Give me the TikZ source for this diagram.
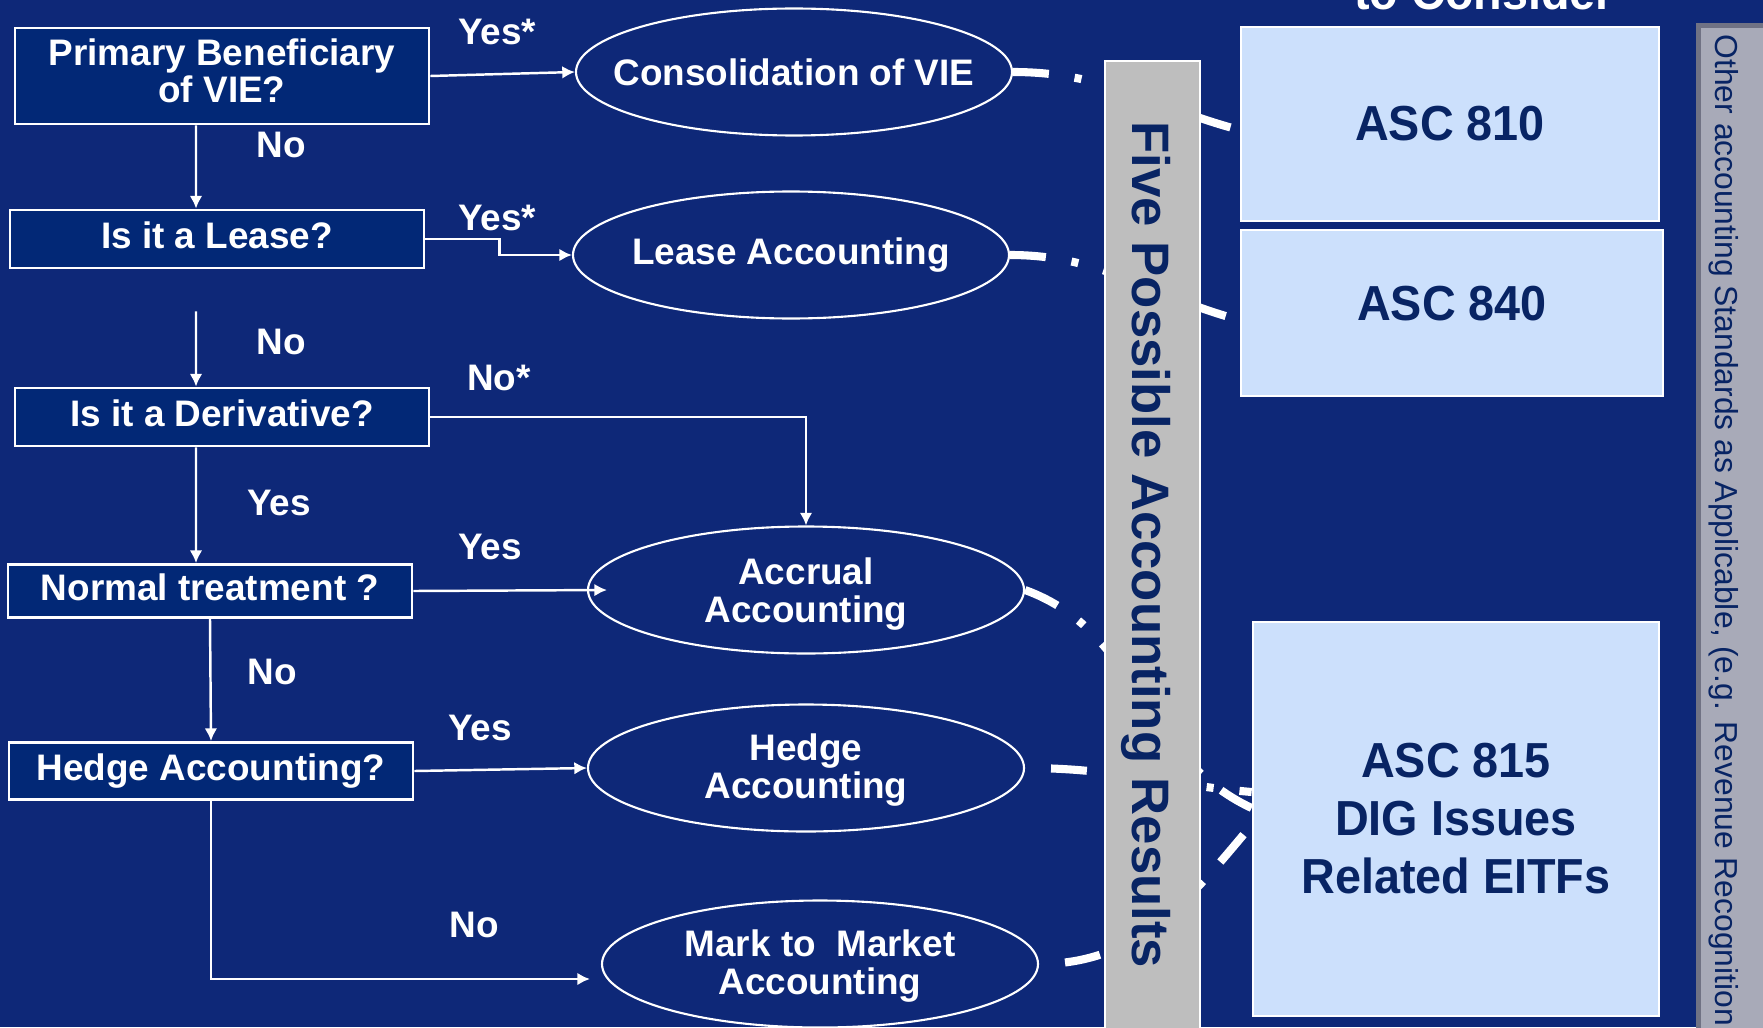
\documentclass[tikz,border=0pt]{standalone}
\usepackage{fontspec}
\setmainfont{Liberation Sans}
\newfontfamily\ascfont[FakeStretch=0.95]{Liberation Sans}
\usetikzlibrary{shapes.geometric,arrows.meta}
\definecolor{navybg}{RGB}{14,40,120}
\definecolor{navybox}{RGB}{2,40,118}
\definecolor{palebox}{RGB}{204,224,252}
\definecolor{inkblue}{RGB}{8,36,100}
\definecolor{bargray}{RGB}{190,190,190}
\definecolor{sidegray}{RGB}{168,170,184}
\definecolor{sideedge}{RGB}{112,114,132}

\begin{document}
\begin{tikzpicture}[x=0.1mm,y=-0.1mm,
  question/.style={draw=white,line width=0.8pt,fill=navybox,text=white,inner sep=0pt,
    align=center,font=\fontsize{10.5}{10.5}\selectfont\bfseries},
  oneline/.style={text height=8pt,text depth=2.5pt},
  result/.style={ellipse,draw=white,line width=0.6pt,text=white,inner xsep=-3mm,inner ysep=0pt,
    minimum width=43.6mm,minimum height=12.7mm,align=center,font=\fontsize{10.5}{10.8}\selectfont\bfseries},
  answer/.style={text=white,inner sep=0pt,font=\fontsize{10.5}{10.5}\selectfont\bfseries},
  flow/.style={draw=white,line width=0.7pt,-{Latex[length=3.6pt,width=3.6pt]}},
  asc/.style={draw=white,line width=0.8pt,fill=palebox,text=inkblue,inner sep=0pt,
    align=center,font=\ascfont\fontsize{14}{16.5}\selectfont\bfseries},
  link/.style={white,line width=2.3pt,dash pattern=on 10.2pt off 7.4pt on 2pt off 7.4pt}
]
\useasboundingbox (0,0) rectangle (1763,1027);
\fill[navybg] (0,0) rectangle (1763,1027);
\clip (0,0) rectangle (1763,1027);

% questions down the left
\node[question,minimum width=41.4mm,minimum height=9.6mm,text depth=3.2pt] (primary) at (222,76) {Primary Beneficiary\\of VIE?};
\node[question,oneline,minimum width=41.4mm,minimum height=5.8mm] (lease) at (217,239) {Is it a Lease?};
\node[question,oneline,minimum width=41.4mm,minimum height=5.8mm] (deriv) at (222,417) {Is it a Derivative?};
\node[question,oneline,minimum width=40.4mm,minimum height=5.3mm] (normal) at (210,591) {Normal treatment ?};
\node[question,oneline,minimum width=40.4mm,minimum height=5.7mm] (hedgeq) at (211,771) {Hedge Accounting?};

% the five outcomes
\node[result] (vie) at (794,72) {Consolidation of VIE};
\node[result] (leaseacc) at (791,255) {Lease Accounting};
\node[result,text depth=0pt] (accrual) at (806,590) {Accrual\\Accounting};
\node[result,text depth=1pt] (hedge) at (806,768) {Hedge\\Accounting};
\node[result,text depth=1pt] (mtm) at (820,964) {Mark to\ \ Market\\Accounting};

% standards boxes
\node[asc,minimum width=41.8mm,minimum height=19.4mm] (asc810) at (1450,124) {ASC 810};
\node[asc,minimum width=42.2mm,minimum height=16.6mm,text depth=2mm] (asc840) at (1452,313) {ASC 840};
\node[asc,minimum width=40.6mm,minimum height=39.4mm] (asc815) at (1456,819) {ASC 815\\DIG Issues\\Related EITFs};
\node[anchor=base,text=white,font=\ascfont\fontsize{14}{14}\selectfont\bfseries] (consider) at (1484,10) {to Consider};

% dashed links, the gray bar hides their middle
\draw[link] (vie.east) to[out=0,in=165] ([yshift=-0.6mm]asc810.west);
\draw[link] (leaseacc.east) to[out=0,in=165] ([yshift=-0.7mm]asc840.west);
\draw[link] (accrual.east) to[out=-20,in=155] ([yshift=1.1mm]asc815.west);
\draw[link,dash phase=19.6pt] (hedge.east) to[out=0,in=175] ([yshift=2.7mm]asc815.west);
\draw[link,dash phase=19.6pt] (mtm.east) to[out=0,in=-130] ([yshift=-0.6mm]asc815.west);

\draw[white,line width=0.6pt,fill=bargray] (1105,61) rectangle (1200,1040);
\node[rotate=-90,text=inkblue,inner sep=0pt,font=\fontsize{15}{15}\selectfont\bfseries] (results) at (1146,545) {Five Possible Accounting Results};

\fill[sideedge] (1696,23) rectangle (1775,1040);
\fill[sidegray] (1701,28) rectangle (1775,1040);
\node[rotate=-90,anchor=west,text=inkblue,inner sep=0pt,font=\fontsize{9.05}{9.05}\selectfont] (other) at (1724,34) {Other accounting Standards as Applicable, (e.g. Revenue Recognition};

% yes / no
\node[answer] (a1) at (497,32) {Yes*};
\node[answer] (a2) at (281,145) {No};
\node[answer] (a3) at (497,218) {Yes*};
\node[answer] (a4) at (281,342) {No};
\node[answer] (a5) at (499,378) {No*};
\node[answer] (a6) at (279,503) {Yes};
\node[answer] (a7) at (490,547) {Yes};
\node[answer] (a8) at (272,672) {No};
\node[answer] (a9) at (480,728) {Yes};
\node[answer] (a10) at (474,925) {No};

\draw[flow] ([xshift=-2.6mm]primary.south) -- ([xshift=-2.1mm]lease.north);
\draw[flow] ([xshift=-2.1mm,yshift=-4.2mm]lease.south) -- ([xshift=-2.6mm]deriv.north);
\draw[flow] ([xshift=-2.6mm]deriv.south) -- ([xshift=-1.4mm]normal.north);
\draw[flow] (normal.south) -- (hedgeq.north);
\draw[flow] (hedgeq.south) |- ([xshift=-1.1mm,yshift=-1.5mm]mtm.west);
\draw[flow] (primary.east) -- (vie.west);
\draw[flow] (lease.east) -- ++(7.4mm,0) |- (leaseacc.west);
\draw[flow] (deriv.east) -| (accrual.north);
\draw[flow] (normal.east) -- ([xshift=2mm]accrual.west);
\draw[flow] (hedgeq.east) -- (hedge.west);
\end{tikzpicture}
\end{document}
